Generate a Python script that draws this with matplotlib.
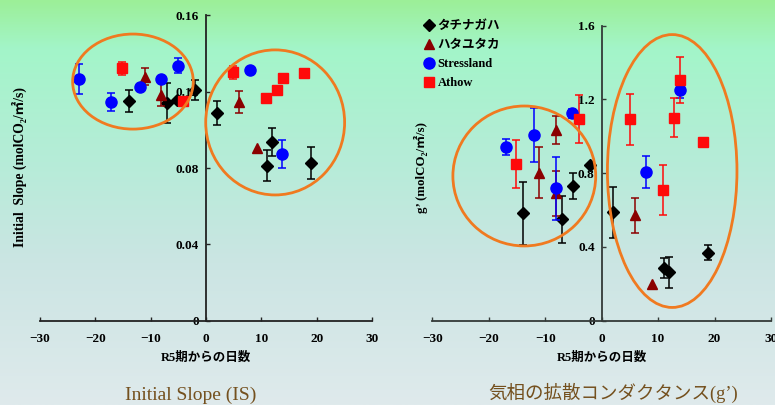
import numpy as np
import matplotlib
matplotlib.use("Agg")
import matplotlib.pyplot as plt
from matplotlib.patches import Ellipse
from matplotlib.colors import LinearSegmentedColormap

plt.rcParams['font.family'] = ['Liberation Serif', 'Noto Sans CJK JP', 'DejaVu Sans']

# ---- data: Initial Slope (left) ----
is_dia_x = [-14.0, -7.0, -5.2, -1.9, 1.9, 11.0, 12.0, 19.0]
is_dia_y = [0.1153, 0.1139, 0.1157, 0.1209, 0.1087, 0.0812, 0.0938, 0.0825]
is_dia_e = [0.0058, 0.0105, 0, 0.0054, 0.0064, 0.0081, 0.0074, 0.0085]
is_tri_x = [-11.1, -8.2, 6.0, 9.2]
is_tri_y = [0.1279, 0.1183, 0.1148, 0.0903]
is_tri_e = [0.0044, 0.006, 0.0058, 0]
is_cir_x = [-23.0, -17.1, -12.0, -8.2, -5.05, 8.0, 13.8]
is_cir_y = [0.1265, 0.1146, 0.1226, 0.1265, 0.1336, 0.1313, 0.0873]
is_cir_e = [0.0079, 0.0049, 0, 0, 0.004, 0, 0.0072]
is_sq_x = [-15.1, -4.2, 4.8, 10.8, 12.8, 14.0, 17.8]
is_sq_y = [0.1322, 0.1151, 0.1301, 0.1168, 0.1209, 0.1272, 0.1296]
is_sq_e = [0.0035, 0, 0.0032, 0, 0, 0, 0]

# ---- data: g' (right) ----
g_dia_x = [-13.9, -7.1, -5.0, -2.1, 2.0, 11.0, 11.9, 18.9]
g_dia_y = [0.582, 0.551, 0.732, 0.844, 0.588, 0.284, 0.262, 0.369]
g_dia_e = [0.17, 0.128, 0.07, 0, 0.138, 0.054, 0.083, 0.042]
g_tri_x = [-11.1, -8.0, -8.1, 5.95, 8.95]
g_tri_y = [0.802, 1.034, 0.69, 0.573, 0.199]
g_tri_e = [0.138, 0.075, 0.12, 0.095, 0]
g_cir_x = [-17.0, -12.0, -8.0, -5.2, 7.85, 13.9]
g_cir_y = [0.941, 1.006, 0.718, 1.124, 0.808, 1.254]
g_cir_e = [0.043, 0.146, 0.17, 0.022, 0.086, 0.045]
g_sq_x = [-15.1, -4.0, 4.95, 10.85, 12.9, 13.9, 17.9]
g_sq_y = [0.849, 1.092, 1.092, 0.708, 1.102, 1.305, 0.970]
g_sq_e = [0.13, 0.13, 0.14, 0.135, 0.107, 0.126, 0]

names = ['タチナガハ', 'ハタユタカ', 'Stressland', 'Athow']
styles = [('D', 'black', 6.5), ('^', '#8b0000', 7.5), ('o', '#0000ff', 8), ('s', '#ff0a0a', 7)]
xticks = [-30, -20, -10, 0, 10, 20, 30]

# ellipses (center x, center y, width, height)
is_ell = [(-13.2, 0.1253, 21.8, 0.0498), (12.5, 0.1039, 25.1, 0.076)]
g_ell = [(-13.7, 0.785, 25.3, 0.759), (12.5, 0.812, 22.95, 1.48)]

fig = plt.figure(figsize=(7.75, 4.05), dpi=100)

# background gradient
bg = fig.add_axes([0, 0, 1, 1], zorder=-10)
cmap = LinearSegmentedColormap.from_list('bg', [(0, '#9cef98'), (0.12, '#a3f5c9'), (0.4, '#b6ecd8'),
                                               (0.65, '#cbe5e3'), (1.0, '#dfeaec')])
bg.imshow(np.linspace(0, 1, 256).reshape(-1, 1), aspect='auto', cmap=cmap, extent=[0, 1, 0, 1])
bg.axis('off')


def panel(rect, groups, ells, ylim, yticks, ylabels, spine_col):
    ax = fig.add_axes(rect)
    ax.patch.set_alpha(0)
    order = [0, 1, 3, 2]
    for i in order:
        x, y, e = groups[i]
        m, c, ms = styles[i]
        x = np.array(x); y = np.array(y); e = np.array(e)
        has = e > 0
        ax.errorbar(x[has], y[has], yerr=e[has], fmt='none', ecolor=c, elinewidth=1.1,
                    capsize=3, capthick=1.1, zorder=3 + i)
        ax.plot(x, y, m, color=c, ms=ms, mec=c, zorder=4 + i, label=names[i])
    for cx, cy, w, h in ells:
        ax.add_patch(Ellipse((cx, cy), w, h, fill=False, ec='#f07a20', lw=2, zorder=10, clip_on=False))
    ax.set_xlim(-30, 30)
    ax.set_ylim(*ylim)
    for s in ['top', 'right']:
        ax.spines[s].set_visible(False)
    ax.spines['left'].set_position(('data', 0))
    ax.spines['bottom'].set_position(('data', 0))
    for s in ['left', 'bottom']:
        ax.spines[s].set_color(spine_col)
        ax.spines[s].set_linewidth(1.3)
    ax.set_xticks(xticks)
    ax.set_xticklabels([str(v).replace('-', '−') for v in xticks])
    ax.set_yticks(yticks)
    ax.set_yticklabels(ylabels)
    ax.tick_params(direction='in', length=3, width=1, colors=spine_col, labelcolor='black', labelsize=9.5)
    ax.tick_params(axis='x', pad=9)
    ax.tick_params(axis='y', pad=5)
    for t in ax.get_xticklabels() + ax.get_yticklabels():
        t.set_fontweight('bold')
    return ax


axL = panel([0.0516, 0.2081, 0.4284, 0.754],
            [(is_dia_x, is_dia_y, is_dia_e), (is_tri_x, is_tri_y, is_tri_e),
             (is_cir_x, is_cir_y, is_cir_e), (is_sq_x, is_sq_y, is_sq_e)],
            is_ell, (0, 0.16), [0, 0.04, 0.08, 0.12, 0.16], ['0', '0.04', '0.08', '0.12', '0.16'], '#222222')
axR = panel([0.5578, 0.2081, 0.437, 0.7284],
            [(g_dia_x, g_dia_y, g_dia_e), (g_tri_x, g_tri_y, g_tri_e),
             (g_cir_x, g_cir_y, g_cir_e), (g_sq_x, g_sq_y, g_sq_e)],
            g_ell, (0, 1.6), [0, 0.4, 0.8, 1.2, 1.6], ['0', '0.4', '0.8', '1.2', '1.6'], '#333a38')

h, l = axR.get_legend_handles_labels()
idx = [l.index(n) for n in names]
leg = axR.legend([h[i] for i in idx], names, loc='upper left', bbox_to_anchor=(-0.04, 1.035),
                 frameon=False, handlelength=0.8, handletextpad=0.3, labelspacing=0.55,
                 borderaxespad=0, prop={'weight': 'bold', 'size': 9})

fig.text(19.5 / 775, 1 - 167 / 405, 'Initial  Slope (molCO₂/㎡/s)', rotation=90, ha='center', va='center',
         fontsize=9.8, fontweight='bold')
fig.text(421 / 775, 1 - 168 / 405, 'g’ (molCO₂/㎡/s)', rotation=90, ha='center', va='center',
         fontsize=9.3, fontweight='bold')
fig.text(206 / 775, 1 - 358 / 405, 'R5期からの日数', ha='center', va='center', fontsize=9, fontweight='bold')
fig.text(602 / 775, 1 - 358 / 405, 'R5期からの日数', ha='center', va='center', fontsize=9, fontweight='bold')
fig.text(191 / 775, 1 - 395 / 405, 'Initial Slope (IS)', ha='center', va='center', fontsize=14,
         color='#74501e')
fig.text(613 / 775, 1 - 393 / 405, '気相の拡散コンダクタンス(g’)', ha='center', va='center', fontsize=13.3,
         color='#74501e')

fig.savefig('out.png', dpi=100)
